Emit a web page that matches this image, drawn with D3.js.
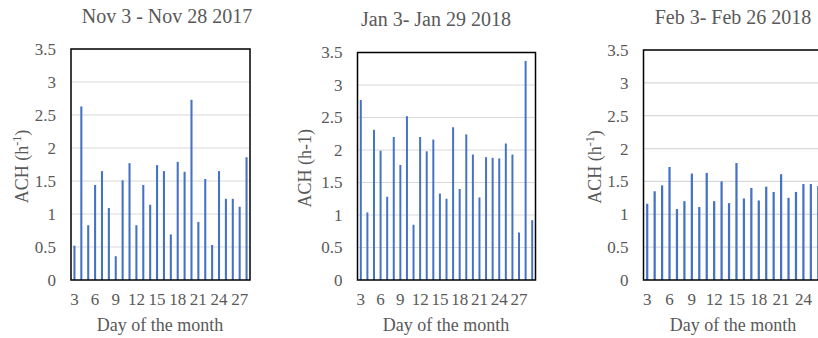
<!DOCTYPE html>
<html>
<head>
<meta charset="utf-8">
<script src="https://cdn.jsdelivr.net/npm/d3@7"></script>
<style>
  html, body { margin: 0; padding: 0; background: #fff; }
  svg { display: block; }
  text { font-family: "Liberation Serif", "Times New Roman", serif; fill: #595959; }
</style>
</head>
<body>
<svg id="chart" width="818" height="338"></svg>
<script>
// ---- Data ----
const novDays = [3,4,5,6,7,8,9,10,11,12,13,14,15,16,17,18,19,20,21,22,23,24,25,26,27,28];
const novACH  = [0.52,2.63,0.83,1.44,1.65,1.09,0.36,1.51,1.77,0.83,1.44,1.14,1.74,1.65,0.69,1.79,1.64,2.73,0.88,1.53,0.53,1.65,1.23,1.23,1.11,1.86];

const janDays = [3,4,5,6,7,8,9,10,11,12,13,14,15,16,17,18,19,20,21,22,23,24,25,26,27,28,29];
const janACH  = [2.77,1.04,2.31,1.99,1.28,2.20,1.77,2.52,0.85,2.20,1.98,2.16,1.33,1.25,2.35,1.40,2.24,1.93,1.27,1.89,1.88,1.87,2.10,1.93,0.73,3.37,0.92];

const febDays = [3,4,5,6,7,8,9,10,11,12,13,14,15,16,17,18,19,20,21,22,23,24,25,26];
const febACH  = [1.16,1.35,1.44,1.72,1.08,1.20,1.62,1.11,1.63,1.20,1.50,1.17,1.78,1.24,1.40,1.21,1.42,1.34,1.61,1.25,1.34,1.46,1.46,1.43];

const xTickDays = [3,6,9,12,15,18,21,24,27];
const yTicks = [0,0.5,1,1.5,2,2.5,3,3.5];
const yTickLabels = ["0","0.5","1","1.5","2","2.5","3","3.5"];

const titles = ["Nov 3 - Nov 28 2017", "Jan 3- Jan 29 2018", "Feb 3- Feb 26 2018"];
const xTitle = "Day of the month";

// ---- Layout ----
const panels = [
  { days: novDays, vals: novACH, title: titles[0], sup: true,
    box: {l: 71, r: 250, t: 49, b: 280}, titleY: 23, titleX: 167, yTitleX: 28, xTitleX: 160 },
  { days: janDays, vals: janACH, title: titles[1], sup: false,
    box: {l: 357.5, r: 535.5, t: 52.5, b: 280}, titleY: 26, titleX: 436, yTitleX: 311, xTitleX: 446 },
  { days: febDays, vals: febACH, title: titles[2], sup: true,
    box: {l: 643.5, r: 822, t: 50, b: 280}, titleY: 24, titleX: 733, yTitleX: 601, xTitleX: 733 }
];

const svg = d3.select("#chart");
const barColor = "#4472C4";
const FONT = "'Liberation Serif', 'Times New Roman', serif";

panels.forEach(p => {
  const g = svg.append("g");
  const x = d3.scaleBand().domain(p.days).range([p.box.l, p.box.r]).paddingInner(0.7).paddingOuter(0.35);
  const y = d3.scaleLinear().domain([0, 3.5]).range([p.box.b, p.box.t]);

  // gridlines
  g.selectAll("line.grid").data(yTicks.slice(1)).join("line")
    .attr("x1", p.box.l).attr("x2", p.box.r)
    .attr("y1", d => y(d)).attr("y2", d => y(d))
    .attr("stroke", "#d9d9d9").attr("stroke-width", 1.2);

  // bars
  g.selectAll("rect.bar").data(p.vals).join("rect")
    .attr("x", (d, i) => x(p.days[i]))
    .attr("width", x.bandwidth())
    .attr("y", d => y(d))
    .attr("height", d => y(0) - y(d))
    .attr("fill", barColor);

  // frame
  g.append("rect").attr("x", p.box.l).attr("y", p.box.t)
    .attr("width", p.box.r - p.box.l).attr("height", p.box.b - p.box.t)
    .attr("fill", "none").attr("stroke", "#000").attr("stroke-width", 1.5);

  // y axis labels
  const yAxis = d3.axisLeft(y).tickValues(yTicks).tickFormat((d, i) => yTickLabels[i]).tickSize(0).tickPadding(15);
  const ya = g.append("g").attr("transform", `translate(${p.box.l},0)`).call(yAxis);
  ya.select(".domain").remove();
  ya.selectAll("text").attr("fill", "#595959")
    .style("font-family", FONT).style("font-size", "17px");

  // x axis labels
  const xAxis = d3.axisBottom(x).tickValues(xTickDays.filter(d => p.days.includes(d))).tickSize(0).tickPadding(13);
  const xa = g.append("g").attr("transform", `translate(0,${p.box.b})`).call(xAxis);
  xa.select(".domain").remove();
  xa.selectAll("text").attr("fill", "#595959")
    .style("font-family", FONT).style("font-size", "17px");

  // title
  g.append("text").attr("x", p.titleX).attr("y", p.titleY).attr("text-anchor", "middle")
    .style("font-family", FONT).style("font-size", "20px").text(p.title);

  // x title
  g.append("text").attr("x", p.xTitleX).attr("y", 331)
    .attr("text-anchor", "middle").style("font-family", FONT).style("font-size", "18px").text(xTitle);

  // y title
  const cy = (p.box.t + p.box.b) / 2 + 2;
  const yt = g.append("text").attr("transform", `translate(${p.yTitleX},${cy}) rotate(-90)`)
    .attr("text-anchor", "middle").style("font-family", FONT).style("font-size", "18px");
  if (p.sup) {
    yt.append("tspan").text("ACH (h");
    yt.append("tspan").attr("dy", -7).style("font-size", "12px").text("-1");
    yt.append("tspan").attr("dy", 7).text(")");
  } else {
    yt.text("ACH (h-1)");
  }
});
</script>
</body>
</html>
